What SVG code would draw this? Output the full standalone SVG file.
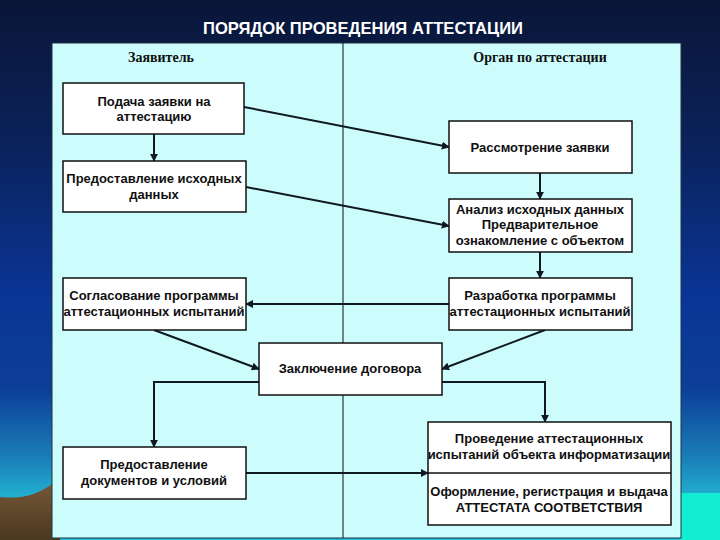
<svg xmlns="http://www.w3.org/2000/svg" width="720" height="540" viewBox="0 0 720 540">
<defs>
<linearGradient id="bg" x1="0" y1="0" x2="0" y2="1">
<stop offset="0" stop-color="#0a1638"/>
<stop offset="0.25" stop-color="#0b2158"/>
<stop offset="0.55" stop-color="#0a3596"/>
<stop offset="0.72" stop-color="#0c3e98"/>
<stop offset="0.85" stop-color="#1a80b8"/>
<stop offset="0.92" stop-color="#22b0d0"/>
<stop offset="1" stop-color="#20c0d8"/>
</linearGradient>
<linearGradient id="hill" x1="0" y1="0" x2="0" y2="1">
<stop offset="0" stop-color="#7a5a38"/>
<stop offset="1" stop-color="#4a3820"/>
</linearGradient>
<marker id="ah" viewBox="0 0 10 10" refX="9" refY="5" markerWidth="8" markerHeight="8" orient="auto" markerUnits="userSpaceOnUse">
<path d="M0,0 L10,5 L0,10 Z" fill="#101820"/>
</marker>
<style>
.box{fill:#ffffff;stroke:#101010;stroke-width:1.5}
.t{font-family:"Liberation Sans",Arial,sans-serif;font-weight:bold;font-size:13px;fill:#101010;text-anchor:middle}
.h{font-family:"Liberation Serif","Times New Roman",serif;font-weight:bold;font-size:14px;fill:#101010;text-anchor:middle}
.c{fill:none;stroke:#101820;stroke-width:2}
</style>
</defs>
<rect x="0" y="0" width="720" height="540" fill="url(#bg)"/>
<rect x="680" y="493" width="40" height="47" fill="#12ecd0"/>
<path d="M0,497 C30,500 45,490 60,478 L60,540 L0,540 Z" fill="url(#hill)"/>
<text x="363" y="34" font-family="'Liberation Sans',Arial,sans-serif" font-weight="bold" font-size="17" fill="#ffffff" text-anchor="middle" textLength="320" lengthAdjust="spacingAndGlyphs">ПОРЯДОК ПРОВЕДЕНИЯ АТТЕСТАЦИИ</text>
<rect x="52" y="43" width="629" height="495" fill="#ccfcfc" stroke="#203040" stroke-width="1"/>
<line x1="343" y1="43" x2="343" y2="538" stroke="#101010" stroke-width="1"/>
<text class="h" x="161" y="62">Заявитель</text>
<text class="h" x="540" y="62">Орган по аттестации</text>
<g id="connectors">
<line class="c" x1="244" y1="107" x2="449" y2="147" marker-end="url(#ah)"/>
<line class="c" x1="154" y1="134" x2="154" y2="161" marker-end="url(#ah)"/>
<line class="c" x1="246" y1="187" x2="449" y2="226" marker-end="url(#ah)"/>
<line class="c" x1="540" y1="173" x2="540" y2="199" marker-end="url(#ah)"/>
<line class="c" x1="540" y1="252" x2="540" y2="278" marker-end="url(#ah)"/>
<line class="c" x1="449" y1="304" x2="246" y2="304" marker-end="url(#ah)"/>
<line class="c" x1="154" y1="330" x2="259" y2="369" marker-end="url(#ah)"/>
<line class="c" x1="545" y1="330" x2="442" y2="369" marker-end="url(#ah)"/>
<polyline class="c" points="259,382 154,382 154,447" marker-end="url(#ah)"/>
<polyline class="c" points="442,382 545,382 545,422" marker-end="url(#ah)"/>
<line class="c" x1="246" y1="473" x2="428" y2="473" marker-end="url(#ah)"/>
</g>
<g id="n1"><rect class="box" x="63" y="83" width="181" height="51"/>
<text class="t" x="154" y="106">Подача заявки на</text><text class="t" x="154" y="121">аттестацию</text></g>
<g id="n2"><rect class="box" x="449" y="121" width="183" height="52"/>
<text class="t" x="540" y="152">Рассмотрение заявки</text></g>
<g id="n3"><rect class="box" x="63" y="161" width="183" height="51"/>
<text class="t" x="154" y="183">Предоставление исходных</text><text class="t" x="154" y="199">данных</text></g>
<g id="n4"><rect class="box" x="449" y="199" width="183" height="53"/>
<text class="t" x="540" y="214">Анализ исходных данных</text><text class="t" x="540" y="229">Предварительное</text><text class="t" x="540" y="245">ознакомление с объектом</text></g>
<g id="n5"><rect class="box" x="63" y="278" width="183" height="52"/>
<text class="t" x="154" y="300">Согласование программы</text><text class="t" x="154" y="316">аттестационных испытаний</text></g>
<g id="n6"><rect class="box" x="449" y="278" width="183" height="52"/>
<text class="t" x="540" y="300">Разработка программы</text><text class="t" x="540" y="316">аттестационных испытаний</text></g>
<g id="n7"><rect class="box" x="259" y="343" width="183" height="52"/>
<text class="t" x="350" y="373">Заключение договора</text></g>
<g id="n8"><rect class="box" x="63" y="447" width="183" height="52"/>
<text class="t" x="154" y="469">Предоставление</text><text class="t" x="154" y="485">документов и условий</text></g>
<g id="n9"><rect class="box" x="428" y="422" width="243" height="103"/>
<line x1="428" y1="473" x2="671" y2="473" stroke="#101010" stroke-width="1.5"/>
<text class="t" x="549" y="443">Проведение аттестационных</text><text class="t" x="549" y="459">испытаний объекта информатизации</text>
<text class="t" x="549" y="496">Оформление, регистрация и выдача</text><text class="t" x="549" y="512">АТТЕСТАТА СООТВЕТСТВИЯ</text></g>
</svg>
